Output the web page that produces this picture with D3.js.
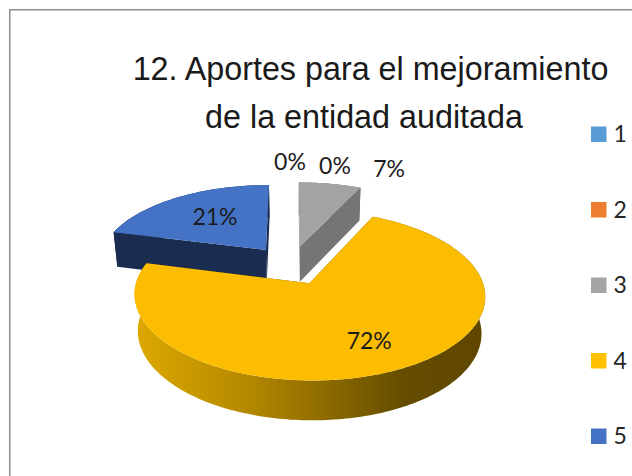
<!DOCTYPE html>
<html>
<head>
<meta charset="utf-8">
<script src="https://cdn.jsdelivr.net/npm/d3@7"></script>
<style>
  html, body { margin: 0; padding: 0; background: #fff; }
  svg { display: block; }
</style>
</head>
<body>
<div id="chart"></div>
<script>
const categories = ["1", "2", "3", "4", "5"];
const values = [0, 0, 7, 72, 21];
const titleLines = ["12. Aportes para el mejoramiento", "de la entidad auditada"];

const topColors = ["#5b9bd5", "#ed7d31", "#a3a3a3", "#fcbd00", "#4472c4"];
const legendColors = ["#5b9bd5", "#ed7d31", "#a5a5a5", "#ffc000", "#4472c4"];
const wallColors = ["#3a6a98", "#a8561f", "#757575", "#634b00", "#1a2c50"];

const width = 632, height = 476;

// tilted pie: disc coords (u right, v far) go to the page with a bit of perspective
const centerX = 291, centerY = 265;
const radiusX = 168, radiusY = 78, persp = 0.14;
const explode = 0.25;

function project(u, v) {
  const s = 1 / (1 + persp * v);
  return [centerX + radiusX * u * s, centerY - radiusY * v * s];
}
// the bottom of the pie sits lower and a little narrower than the top
function drop(p) {
  return [p[0] - (p[0] - 300) * 0.02, p[1] + 33 + (p[1] - 190) * 0.036];
}

const svg = d3.select("#chart").append("svg")
    .attr("width", width)
    .attr("height", height);

// frame, only top and left are in the shot
svg.append("path")
    .attr("d", `M9.75,${height}V9.75H${width}`)
    .attr("fill", "none")
    .attr("stroke", "#8f8f8f")
    .attr("stroke-width", 1.5);

// title, second line sits a bit left of the first one
svg.append("g").selectAll("text")
    .data(titleLines)
    .enter()
    .append("text")
    .attr("x", (d, i) => 370.5 - i * 6.5)
    .attr("y", (d, i) => 80 + i * 48)
    .attr("text-anchor", "middle")
    .attr("font-family", "Liberation Sans")
    .attr("font-size", "32.3px")
    .attr("fill", "#1a1a1a")
    .text(d => d);

const pie = d3.pie().sort(null).startAngle(0).endAngle(2 * Math.PI);
const arcs = pie(values);
const color = d3.scaleOrdinal().domain(categories).range(topColors);
const wallColor = d3.scaleOrdinal().domain(categories).range(wallColors);
const line = d3.line();

// a point of a slice, r is the fraction of the radius
function slicePoint(d, angle, r) {
  const mid = (d.startAngle + d.endAngle) / 2;
  return project(
    explode * Math.sin(mid) + r * Math.sin(angle),
    explode * Math.cos(mid) + r * Math.cos(angle)
  );
}

function rimPoints(d) {
  const steps = Math.ceil((d.endAngle - d.startAngle) / 0.02);
  return d3.range(steps + 1).map(i =>
    slicePoint(d, d.startAngle + (d.endAngle - d.startAngle) * i / steps, 1));
}

const defs = svg.append("defs");
const rimGradient = defs.append("linearGradient")
    .attr("id", "rimGradient")
    .attr("gradientUnits", "userSpaceOnUse")
    .attr("x1", 140).attr("x2", 480)
    .attr("y1", 0).attr("y2", 0);
[["0", "#dca700"], ["0.3", "#b78b00"], ["0.55", "#8c6a00"], ["0.78", "#644c00"], ["1", "#5f4700"]]
  .forEach(s => rimGradient.append("stop").attr("offset", s[0]).attr("stop-color", s[1]));

// back slices first, the big one lies over the other two
const drawOrder = [2, 4, 3];
const slices = svg.append("g").selectAll("g")
    .data(drawOrder.map(i => arcs[i]))
    .enter()
    .append("g");

slices.each(function(d) {
  const g = d3.select(this);
  const name = categories[d.index];
  const rim = rimPoints(d);
  const apex = slicePoint(d, 0, 0);
  const wall = d.index === 3 ? "url(#rimGradient)" : wallColor(name);

  // radial walls
  [rim[0], rim[rim.length - 1]].forEach(p => {
    g.append("path")
        .attr("d", line([apex, p, drop(p), drop(apex)]) + "Z")
        .attr("fill", wallColor(name));
  });
  // outer wall
  g.append("path")
      .attr("d", line(rim.concat(rim.map(drop).reverse())) + "Z")
      .attr("fill", wall);
  // top face
  g.append("path")
      .attr("d", line([apex].concat(rim)) + "Z")
      .attr("fill", color(name));
});

// data labels
const labelRadius = [1.3, 1.3, 1.27, 0.7, 0.6];
const labelNudge = [[-1, -4], [44, 0], [52, 0], [1, 0], [4, 0]];
svg.append("g").selectAll("text")
    .data(arcs)
    .enter()
    .append("text")
    .attr("transform", d => {
      const mid = (d.startAngle + d.endAngle) / 2;
      const p = slicePoint(d, mid, labelRadius[d.index]);
      const n = labelNudge[d.index];
      return `translate(${p[0] + n[0]},${p[1] + n[1]})`;
    })
    .attr("text-anchor", "middle")
    .attr("dy", "0.35em")
    .attr("font-family", "Lato")
    .attr("font-size", "23px")
    .attr("fill", "#1c1c1c")
    .text(d => d.value + "%");

// legend
const legendY = d3.scalePoint().domain(categories).range([134, 436]);
const legend = svg.append("g").selectAll("g")
    .data(categories)
    .enter()
    .append("g")
    .attr("transform", d => `translate(591,${legendY(d)})`);
legend.append("rect")
    .attr("y", -7.5)
    .attr("width", 15.5)
    .attr("height", 15.5)
    .attr("fill", (d, i) => legendColors[i]);
legend.append("text")
    .attr("x", 22.5)
    .attr("dy", "0.36em")
    .attr("font-family", "Lato")
    .attr("font-size", "23px")
    .attr("fill", "#262626")
    .text(d => d);
</script>
</body>
</html>
